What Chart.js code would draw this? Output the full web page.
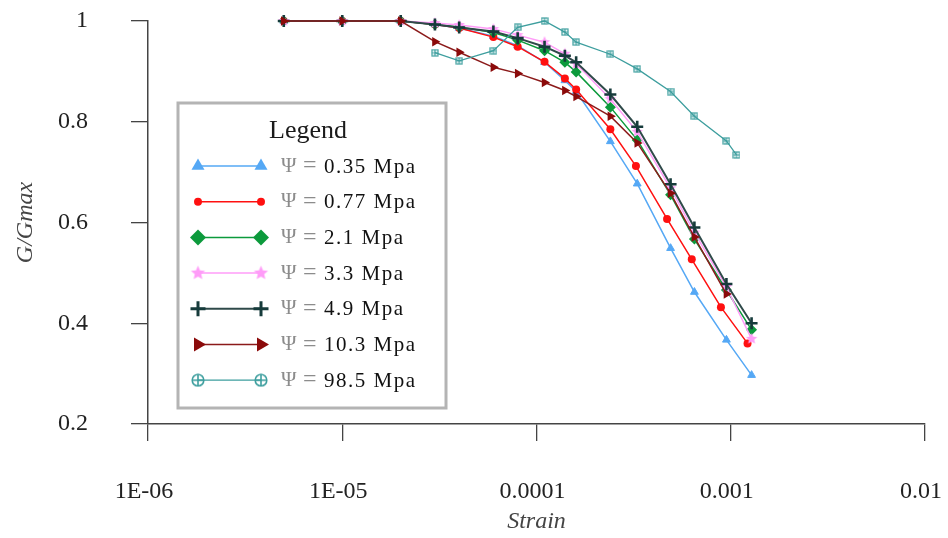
<!DOCTYPE html>
<html>
<head>
<meta charset="utf-8">
<script src="https://cdn.jsdelivr.net/npm/chart.js@4.4.1/dist/chart.umd.min.js"></script>
<style>
html,body{margin:0;padding:0;background:#fff;}
canvas{display:block;}
</style>
</head>
<body>
<canvas id="c" width="948" height="538"></canvas>
<script>
// ---------------- data ----------------
const strainShared = [5e-6,1e-5,2e-5,3e-5,4e-5,6e-5,8e-5,1.1e-4,1.4e-4,1.6e-4,2.4e-4,3.3e-4,4.9e-4,6.5e-4,9.5e-4,1.28e-3];
const strainRed    = [5e-6,1e-5,2e-5,3e-5,4e-5,6e-5,8e-5,1.1e-4,1.4e-4,1.6e-4,2.4e-4,3.25e-4,4.7e-4,6.3e-4,8.9e-4,1.22e-3];
const strain103    = [5e-6,1e-5,2e-5,3e-5,4e-5,6e-5,8e-5,1.1e-4,1.4e-4,1.6e-4,2.4e-4,3.3e-4,4.9e-4,6.5e-4,9.5e-4];
const strain985    = [3e-5,4e-5,6e-5,8e-5,1.1e-4,1.4e-4,1.6e-4,2.4e-4,3.3e-4,4.9e-4,6.5e-4,9.5e-4,1.07e-3];

const g035 = [1,1,1,0.993,0.986,0.970,0.951,0.918,0.882,0.860,0.761,0.677,0.549,0.462,0.367,0.297];
const g077 = [1,1,1,0.993,0.986,0.968,0.949,0.919,0.886,0.864,0.785,0.712,0.607,0.527,0.432,0.360];
const g21  = [1,1,1,0.993,0.988,0.977,0.962,0.941,0.918,0.899,0.829,0.764,0.655,0.567,0.466,0.387];
const g33  = [1,1,1,0.996,0.992,0.984,0.972,0.958,0.935,0.915,0.845,0.780,0.668,0.580,0.472,0.369];
const g49  = [1,1,1,0.993,0.987,0.979,0.966,0.949,0.931,0.918,0.854,0.790,0.676,0.590,0.478,0.400];
const g103 = [1,1,1,0.959,0.938,0.908,0.896,0.878,0.862,0.850,0.811,0.758,0.658,0.571,0.458];
const g985 = [0.937,0.921,0.941,0.9875,1.0,0.978,0.958,0.934,0.905,0.860,0.811,0.762,0.734];

const seriesLabels = ['0.35 Mpa','0.77 Mpa','2.1 Mpa','3.3 Mpa','4.9 Mpa','10.3 Mpa','98.5 Mpa'];
const xTickValues = [1e-6,1e-5,1e-4,1e-3,1e-2];
const xTickLabels = ['1E-06','1E-05','0.0001','0.001','0.01'];
const yTickValues = [0.2,0.4,0.6,0.8,1];

// ---------------- marker glyphs ----------------
function makeCanvas(size, draw){
  const c = document.createElement('canvas');
  c.width = size; c.height = size;
  draw(c.getContext('2d'), size);
  return c;
}
function starGlyph(r, color){
  return makeCanvas(Math.ceil(2*r+2), (x, s) => {
    x.fillStyle = color;
    x.beginPath();
    for (let i = 0; i < 10; i++) {
      const a = -Math.PI/2 + i*Math.PI/5;
      const rr = (i % 2) ? r*0.45 : r;
      x.lineTo(s/2 + rr*Math.cos(a), s/2 + rr*Math.sin(a));
    }
    x.closePath();
    x.fill();
  });
}
function squarePlusGlyph(s, color){
  return makeCanvas(s, (x) => {
    x.strokeStyle = color; x.lineWidth = 1.2;
    x.strokeRect(1, 1, s-2, s-2);
    x.beginPath();
    x.moveTo(s/2, 1); x.lineTo(s/2, s-1);
    x.moveTo(1, s/2); x.lineTo(s-1, s/2);
    x.stroke();
  });
}
function circlePlusGlyph(s, color){
  return makeCanvas(s, (x) => {
    x.strokeStyle = color; x.lineWidth = 1.6;
    x.beginPath(); x.arc(s/2, s/2, s/2-1.2, 0, Math.PI*2); x.stroke();
    x.beginPath();
    x.moveTo(s/2, 1); x.lineTo(s/2, s-1);
    x.moveTo(1, s/2); x.lineTo(s-1, s/2);
    x.stroke();
  });
}

const C = {
  blue:'#55a8f5', red:'#ff1010', green:'#0c9a3c', pink:'#ff9cf8',
  dark:'#163b3b', darkred:'#8b0a0a', teal:'#3d9e9e'
};

function pts(xs, ys){ return xs.map((v,i) => ({x:v, y:ys[i]})); }

const serif = "'Liberation Serif','Times New Roman',serif";

const datasets = [
  {label:seriesLabels[0], data:pts(strainShared,g035), borderColor:C.blue, backgroundColor:C.blue,
   borderWidth:1.5, pointStyle:'triangle', pointRadius:4.5, pointBorderWidth:1, order:6},
  {label:seriesLabels[1], data:pts(strainRed,g077), borderColor:C.red, backgroundColor:C.red,
   borderWidth:1.5, pointStyle:'circle', pointRadius:4, pointBorderWidth:0, order:5},
  {label:seriesLabels[2], data:pts(strainShared,g21), borderColor:C.green, backgroundColor:C.green,
   borderWidth:1.5, pointStyle:'rectRot', pointRadius:5.5, pointBorderWidth:0, order:4},
  {label:seriesLabels[3], data:pts(strainShared,g33), borderColor:C.pink, backgroundColor:C.pink,
   borderWidth:1.5, pointStyle:starGlyph(6, C.pink), pointRadius:6, order:3},
  {label:seriesLabels[4], data:pts(strainShared,g49), borderColor:'#2f4a4a', backgroundColor:C.dark,
   pointBorderColor:C.dark, borderWidth:2, pointStyle:'cross', pointRadius:6, pointBorderWidth:2.6, order:2},
  {label:seriesLabels[5], data:pts(strain103,g103), borderColor:'#8b1a1a', backgroundColor:C.darkred,
   pointBorderColor:C.darkred, borderWidth:1.5, pointStyle:'triangle', pointRotation:90, pointRadius:5.5, pointBorderWidth:0, order:1},
  {label:seriesLabels[6], data:pts(strain985,g985), borderColor:C.teal, backgroundColor:C.teal,
   borderWidth:1.3, pointStyle:squarePlusGlyph(8, C.teal), pointRadius:5, order:0}
];
datasets.forEach(d => { d.showLine = true; d.tension = 0; d.clip = false; });

// legend marker styles (appearance only)
const legendMarks = [
  {pointStyle:'triangle', radius:7.5, rotation:0, borderWidth:0},
  {pointStyle:'circle', radius:4, rotation:0, borderWidth:0},
  {pointStyle:'rectRot', radius:8, rotation:0, borderWidth:0},
  {pointStyle:starGlyph(7.5, C.pink), radius:7, rotation:0, borderWidth:0},
  {pointStyle:'cross', radius:7.5, rotation:0, borderWidth:3},
  {pointStyle:'triangle', radius:8, rotation:90, borderWidth:0},
  {pointStyle:circlePlusGlyph(14, C.teal), radius:7, rotation:0, borderWidth:0}
];
const legendMarkColors = [C.blue, C.red, C.green, C.pink, C.dark, C.darkred, C.teal];

const boxLegend = {
  id:'boxLegend',
  afterDatasetsDraw(chart){
    const ctx = chart.ctx;
    ctx.save();
    const L = 178, T = 103, W = 268, H = 305;
    ctx.fillStyle = '#fff';
    ctx.fillRect(L, T, W, H);
    ctx.strokeStyle = '#b4b4b4';
    ctx.lineWidth = 3;
    ctx.strokeRect(L, T, W, H);
    ctx.fillStyle = '#1a1a1a';
    ctx.font = "26px " + serif;
    ctx.textAlign = 'center';
    ctx.textBaseline = 'middle';
    ctx.fillText('Legend', 308, 131);
    chart.data.datasets.forEach((ds, i) => {
      const y = 166 + i*35.7;
      const x1 = 198, x2 = 261;
      ctx.strokeStyle = ds.borderColor;
      ctx.lineWidth = ds.borderWidth;
      ctx.beginPath(); ctx.moveTo(x1, y); ctx.lineTo(x2, y); ctx.stroke();
      const m = legendMarks[i];
      ctx.fillStyle = legendMarkColors[i];
      ctx.strokeStyle = legendMarkColors[i];
      ctx.lineWidth = m.borderWidth;
      Chart.helpers.drawPoint(ctx, m, x1, y);
      Chart.helpers.drawPoint(ctx, m, x2, y);
      ctx.textAlign = 'left';
      ctx.font = "21px " + serif;
      ctx.fillStyle = '#8c8c8c';
      ctx.fillText('\u03A8', 281, y);
      ctx.font = "24px " + serif;
      ctx.fillText('=', 303, y);
      ctx.font = "21px " + serif;
      ctx.fillStyle = '#111';
      if ('letterSpacing' in ctx) ctx.letterSpacing = '1.5px';
      ctx.fillText(ds.label, 324, y + 1);
      if ('letterSpacing' in ctx) ctx.letterSpacing = '0px';
    });
    ctx.restore();
  }
};

function zeroPad(s){ s.paddingTop = 0; s.paddingBottom = 0; s.paddingLeft = 0; s.paddingRight = 0; }

new Chart(document.getElementById('c'), {
  type:'scatter',
  data:{ datasets },
  options:{
    responsive:false,
    animation:false,
    devicePixelRatio:1,
    layout:{ padding:{ left:0, right:23, top:21, bottom:0 } },
    plugins:{ legend:{display:false}, tooltip:{enabled:false} },
    scales:{
      x:{
        type:'logarithmic', min:1e-6, max:1e-2,
        afterBuildTicks: s => { s.ticks = xTickValues.map(v => ({value:v, major:true})); },
        afterFit: s => { s.height = 114; zeroPad(s); },
        ticks:{ autoSkip:false, maxRotation:0, minRotation:0, padding:36, labelOffset:-4,
          color:'#222', font:{family:serif, size:24},
          callback:(v, i) => xTickLabels[i] },
        grid:{ drawOnChartArea:false, drawTicks:true, tickLength:17, color:'#444', lineWidth:1.3 },
        border:{ display:true, color:'#444', width:1.5 },
        title:{ display:true, text:'Strain', color:'#444',
          font:{family:serif, size:24, style:'italic'}, padding:{top:0, bottom:2} }
      },
      y:{
        type:'linear', min:0.2, max:1,
        afterBuildTicks: s => { s.ticks = yTickValues.map(v => ({value:v})); },
        afterFit: s => { s.width = 148; zeroPad(s); },
        ticks:{ padding:43, color:'#222', font:{family:serif, size:24},
          callback: v => String(+Number(v).toFixed(1)) },
        grid:{ drawOnChartArea:false, drawTicks:true, tickLength:17, color:'#444', lineWidth:1.3 },
        border:{ display:true, color:'#444', width:1.5 },
        title:{ display:true, text:'G/Gmax', color:'#444',
          font:{family:serif, size:24, style:'italic'}, padding:{top:11, bottom:0} }
      }
    }
  },
  plugins:[boxLegend]
});
</script>
</body>
</html>
